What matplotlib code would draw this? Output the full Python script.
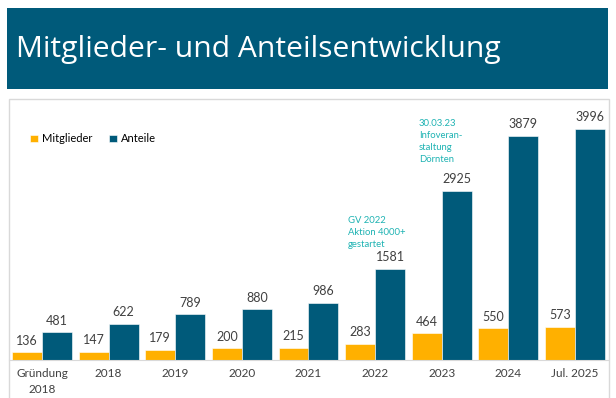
import matplotlib.pyplot as plt
from matplotlib.patches import Rectangle
import numpy as np

categories = ['Gründung\n2018', '2018', '2019', '2020', '2021', '2022', '2023', '2024', 'Jul. 2025']
mitglieder = [136, 147, 179, 200, 215, 283, 464, 550, 573]
anteile = [481, 622, 789, 880, 986, 1581, 2925, 3879, 3996]

ORANGE = '#FFB000'
BLUE = '#005A7A'
TEAL = '#1FB3B3'
TXT = '#404040'

W, H = 616, 398
fig = plt.figure(figsize=(W / 100, H / 100), dpi=100)
plt.rcParams['font.family'] = ['Lato', 'DejaVu Sans']

# title banner
fig.patches.append(Rectangle((7 / W, 1 - 89 / H), 601 / W, 81 / H, transform=fig.transFigure,
                             facecolor=BLUE, edgecolor='none', zorder=-2))
fig.text(16 / W, 1 - 50 / H, 'Mitglieder- und Anteilsentwicklung', color='white',
         fontsize=21.6, family='Open Sans', va='center', ha='left')

# chart box
fig.patches.append(Rectangle((9 / W, -0.05), 600 / W, 1 - 99 / H + 0.05, transform=fig.transFigure,
                             facecolor='white', edgecolor='#d9d9d9', linewidth=1, zorder=-2))

ax = fig.add_axes([8.7 / W, (H - 360) / H, 599.6 / W, (360 - 101) / H])
ax.set_facecolor('none')
x = np.arange(len(categories))
bw = 0.45
ax.bar(x - bw / 2, mitglieder, bw, color=ORANGE, label='Mitglieder', edgecolor='white', linewidth=0.4)
ax.bar(x + bw / 2, anteile, bw, color=BLUE, label='Anteile', edgecolor='white', linewidth=0.4)

for i in range(len(categories)):
    ax.annotate(str(mitglieder[i]), (x[i] - bw / 2, mitglieder[i]), xytext=(0, 4),
                textcoords='offset points', ha='center', va='bottom', fontsize=9, color=TXT)
    ax.annotate(str(anteile[i]), (x[i] + bw / 2, anteile[i]), xytext=(0, 4),
                textcoords='offset points', ha='center', va='bottom', fontsize=9, color=TXT)

ax.set_xlim(-0.5, len(categories) - 0.5)
ax.set_ylim(0, 4480)
ax.set_xticks(x)
ax.set_xticklabels(categories, fontsize=8.5, color=TXT, linespacing=1.5)
ax.tick_params(axis='x', length=0, pad=6)
ax.set_yticks([])
for s in ['top', 'left', 'right']:
    ax.spines[s].set_visible(False)
ax.spines['bottom'].set_color('#d9d9d9')

ax.legend(loc='upper left', bbox_to_anchor=(17 / 600, 1 - 28 / 259), ncol=2, frameon=False,
          fontsize=8, handlelength=0.7, handleheight=0.7, columnspacing=1.5, handletextpad=0.35,
          borderaxespad=0)

fig.text(348 / W, 1 - 216 / H, 'GV 2022\nAktion 4000+\ngestartet', color=TEAL, fontsize=6.8,
         va='top', ha='left', linespacing=1.45)
fig.text(419 / W, 1 - 119 / H, '30.03.23\nInfoveran-\nstaltung\nDörnten', color=TEAL, fontsize=6.8,
         va='top', ha='left', linespacing=1.45)

fig.savefig('out.png', dpi=100)
